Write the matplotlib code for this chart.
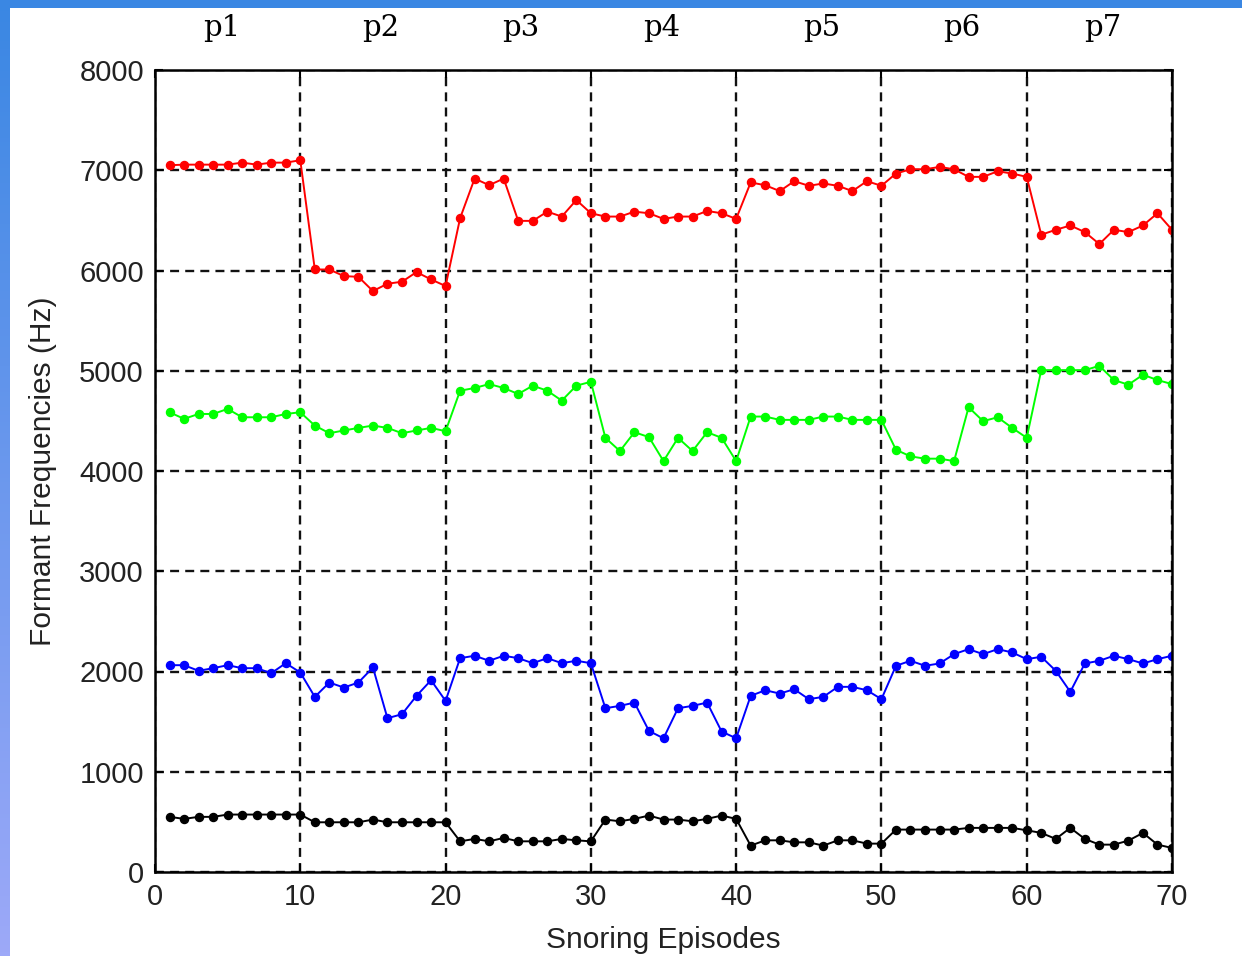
import numpy as np
import matplotlib
matplotlib.use("Agg")
import matplotlib.pyplot as plt
from matplotlib.colors import LinearSegmentedColormap

episodes = list(range(1, 71))

f4_red = [7050, 7056, 7056, 7056, 7056, 7076, 7056, 7076, 7076, 7100,
          6010, 6010, 5944, 5937, 5795, 5868, 5888, 5984, 5911, 5845,
          6522, 6917, 6851, 6917, 6495, 6495, 6587, 6538, 6703, 6571,
          6538, 6538, 6587, 6571, 6515, 6538, 6538, 6594, 6571, 6515,
          6878, 6851, 6792, 6891, 6845, 6868, 6845, 6792, 6891, 6845,
          6967, 7010, 7010, 7033, 7010, 6934, 6934, 6990, 6967, 6934,
          6357, 6406, 6449, 6383, 6264, 6406, 6383, 6449, 6571, 6406]

f3_green = [4586, 4520, 4569, 4569, 4619, 4536, 4536, 4536, 4569, 4586,
            4453, 4377, 4404, 4430, 4453, 4430, 4377, 4404, 4430, 4397,
            4801, 4828, 4867, 4828, 4768, 4851, 4801, 4702, 4851, 4890,
            4331, 4199, 4387, 4338, 4099, 4331, 4199, 4387, 4331, 4099,
            4543, 4543, 4510, 4510, 4510, 4543, 4543, 4510, 4510, 4510,
            4212, 4146, 4123, 4123, 4099, 4636, 4497, 4536, 4430, 4331,
            5006, 5006, 5006, 5006, 5049, 4907, 4861, 4960, 4907, 4867]

f2_blue = [2063, 2063, 2007, 2033, 2063, 2033, 2033, 1983, 2083, 1990,
           1747, 1890, 1840, 1890, 2040, 1534, 1574, 1757, 1913, 1707,
           2133, 2157, 2107, 2157, 2133, 2083, 2133, 2083, 2107, 2083,
           1634, 1657, 1690, 1407, 1334, 1634, 1657, 1690, 1401, 1334,
           1757, 1813, 1780, 1823, 1724, 1747, 1847, 1847, 1813, 1724,
           2057, 2107, 2057, 2080, 2173, 2223, 2173, 2223, 2190, 2123,
           2147, 2007, 1797, 2080, 2107, 2157, 2123, 2080, 2123, 2157]

f1_black = [550, 530, 550, 550, 573, 573, 573, 573, 573, 573,
            496, 496, 496, 496, 523, 496, 496, 496, 496, 496,
            306, 330, 306, 340, 306, 306, 306, 330, 316, 306,
            523, 506, 530, 563, 523, 523, 506, 530, 563, 530,
            263, 316, 316, 296, 296, 263, 316, 316, 283, 283,
            423, 423, 423, 423, 423, 440, 440, 440, 440, 416,
            390, 330, 440, 330, 273, 273, 313, 390, 273, 240]

patient_labels = ["p1", "p2", "p3", "p4", "p5", "p6", "p7"]
patient_label_x = [4.6, 15.5, 25.2, 34.9, 45.9, 55.5, 65.2]

x_ticks = list(range(0, 71, 10))
y_ticks = list(range(0, 8001, 1000))

W, H = 1242, 956
fig = plt.figure(figsize=(W / 100, H / 100), dpi=100)
fig.patch.set_facecolor("white")

# slide background strips
cmap = LinearSegmentedColormap.from_list("bg", ["#3a87e3", "#9da9f8"])
ax_left = fig.add_axes([0, 0, 10 / W, 1])
ax_left.imshow(np.linspace(0, 1, 256).reshape(-1, 1), aspect="auto", cmap=cmap)
ax_left.axis("off")
ax_top = fig.add_axes([0, 1 - 8 / H, 1, 8 / H])
ax_top.set_facecolor("#3a87e3")
ax_top.set_xticks([]); ax_top.set_yticks([])
for s in ax_top.spines.values():
    s.set_visible(False)

ax = fig.add_axes([155 / W, 1 - 872 / H, (1172 - 155) / W, (872 - 70) / H])

mk = dict(marker="o", markersize=5.8, linewidth=1.4)
ax.plot(episodes, f4_red, color="#ff0000", **mk)
ax.plot(episodes, f3_green, color="#00ff00", **mk)
ax.plot(episodes, f2_blue, color="#0000ff", **mk)
ax.plot(episodes, f1_black, color="#000000", **mk)

ax.set_xlim(0, 70)
ax.set_ylim(0, 8000)
ax.set_xticks(x_ticks)
ax.set_yticks(y_ticks)
ax.grid(True, color="#111111", linestyle=(0, (3.8, 2.6)), linewidth=1.7)
ax.set_axisbelow(True)
for s in ax.spines.values():
    s.set_linewidth(1.8)

tick_font = "Liberation Sans"
ax.tick_params(direction="in", length=6, width=1.5, top=True, right=True,
               labelsize=21, pad=8, labelcolor="#222222")
for lab in ax.get_xticklabels() + ax.get_yticklabels():
    lab.set_fontfamily(tick_font)

ax.set_xlabel("Snoring Episodes", fontsize=21.5, fontfamily=tick_font,
              labelpad=11, color="#222222")
ax.set_ylabel("Formant Frequencies (Hz)", fontsize=21.5, fontfamily=tick_font,
              labelpad=16, color="#222222")

for lbl, xp in zip(patient_labels, patient_label_x):
    ax.text(xp, 1.035, lbl, transform=ax.get_xaxis_transform(), ha="center",
            va="bottom", fontsize=21, fontfamily="DejaVu Serif")

fig.savefig("out.png", dpi=100, facecolor="white")
